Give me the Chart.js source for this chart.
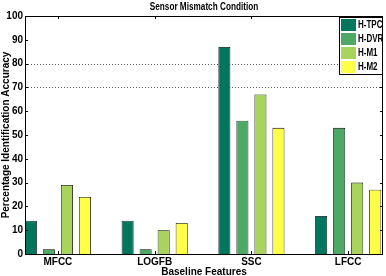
<!DOCTYPE html>
<html>
<head>
<meta charset="utf-8">
<script src="https://cdn.jsdelivr.net/npm/chart.js@4/dist/chart.umd.min.js"></script>
<style>
  html, body { margin: 0; padding: 0; background: #fff; }
  #wrap { width: 386px; height: 276px; }
</style>
</head>
<body>
<div id="wrap"><canvas id="chart" width="386" height="276"></canvas></div>
<script>
// data
const categories = ["MFCC", "LOGFB", "SSC", "LFCC"];
const seriesNames = ["H-TPC", "H-DVR", "H-M1", "H-M2"];
const hTPC = [14, 14, 87, 16];
const hDVR = [2, 2, 56, 53];
const hM1 = [29, 10, 67, 30];
const hM2 = [24, 13, 53, 27];
const yTicks = [0, 10, 20, 30, 40, 50, 60, 70, 80, 90, 100];
const gridAt = [70, 80];
const chartTitle = "Sensor Mismatch Condition";

const colors = ["#00775c", "#4ea866", "#a8d35c", "#ffff47"];
const FONT = "'Liberation Sans', Arial, sans-serif";

const toPoints = (arr) => arr.map((v, i) => ({ x: i + 1, y: v }));

// squeezed text, the original uses a narrow helvetica
function narrowText(ctx, text, x, y, sx) {
  ctx.save();
  ctx.translate(x, y);
  ctx.scale(sx, 1);
  ctx.fillText(text, 0, 0);
  ctx.restore();
}

// frame, inward ticks, dotted grid, title and legend box, matlab style
const framePlugin = {
  id: "frame",
  beforeDatasetsDraw(chart) {
    const { ctx, chartArea: a, scales } = chart;
    ctx.save();
    ctx.strokeStyle = "#555";
    ctx.lineWidth = 1;
    ctx.setLineDash([1, 2]);
    gridAt.forEach((v) => {
      const y = Math.round(scales.y.getPixelForValue(v)) + 0.5;
      ctx.beginPath();
      ctx.moveTo(a.left, y);
      ctx.lineTo(a.right, y);
      ctx.stroke();
    });
    ctx.restore();
  },
  afterDraw(chart) {
    const { ctx, chartArea: a, scales } = chart;
    ctx.save();
    ctx.strokeStyle = "#000";
    ctx.lineWidth = 1;
    ctx.strokeRect(Math.round(a.left) + 0.5, Math.round(a.top) + 0.5,
      Math.round(a.right - a.left) - 1, Math.round(a.bottom - a.top));
    // inward ticks
    ctx.beginPath();
    yTicks.forEach((v) => {
      const y = Math.round(scales.y.getPixelForValue(v)) + 0.5;
      ctx.moveTo(a.left, y); ctx.lineTo(a.left + 3, y);
      ctx.moveTo(a.right, y); ctx.lineTo(a.right - 3, y);
    });
    categories.forEach((c, i) => {
      const x = Math.round(scales.x.getPixelForValue(i + 1)) + 0.5;
      ctx.moveTo(x, a.top); ctx.lineTo(x, a.top + 3);
      ctx.moveTo(x, a.bottom); ctx.lineTo(x, a.bottom - 3);
    });
    ctx.stroke();

    // title centred on the plot box
    ctx.fillStyle = "#000";
    ctx.font = "bold 10px " + FONT;
    ctx.textAlign = "center";
    ctx.textBaseline = "middle";
    narrowText(ctx, chartTitle, (a.left + a.right) / 2, 7, 0.82);

    // legend
    const lx = 339, ly = 17, rowH = 14, lw = a.right - lx - 1;
    ctx.fillStyle = "#fff";
    ctx.fillRect(lx, ly, lw, rowH * 4 + 1);
    ctx.strokeRect(lx + 0.5, ly + 0.5, lw, rowH * 4 + 1);
    ctx.font = "bold 10px " + FONT;
    ctx.textAlign = "left";
    seriesNames.forEach((name, i) => {
      const y = ly + 2 + i * rowH;
      ctx.fillStyle = colors[i];
      ctx.fillRect(lx + 2, y, 15, 12);
      ctx.fillStyle = "#000";
      narrowText(ctx, name, lx + 19, y + 6.5, 0.8);
    });
    ctx.restore();
  }
};

new Chart(document.getElementById("chart").getContext("2d"), {
  type: "bar",
  data: {
    datasets: seriesNames.map((name, i) => ({
      label: name,
      data: toPoints([hTPC, hDVR, hM1, hM2][i]),
      backgroundColor: colors[i],
      borderColor: "#000",
      borderWidth: 0.8,
      categoryPercentage: 0.745,
      barPercentage: 0.667,
    })),
  },
  options: {
    responsive: false,
    animation: false,
    layout: { padding: { top: 16, right: 3, bottom: 0, left: 0 } },
    plugins: {
      legend: { display: false },
      tooltip: { enabled: false },
      title: { display: false },
    },
    scales: {
      x: {
        type: "linear",
        offset: false,
        min: 0.66,
        max: 4.36,
        afterBuildTicks: (scale) => {
          scale.ticks = categories.map((c, i) => ({ value: i + 1 }));
        },
        afterFit: (scale) => { scale.height = 22; },
        grid: { display: false, drawTicks: false },
        border: { display: false },
        ticks: {
          color: "#000",
          padding: 2,
          autoSkip: false,
          maxRotation: 0,
          font: { family: FONT, size: 10, weight: "bold" },
          callback: (v) => categories[v - 1],
        },
        title: {
          display: true,
          text: "Baseline Features",
          color: "#000",
          padding: 0,
          font: { family: FONT, size: 10, weight: "bold", lineHeight: 0.7 },
        },
      },
      y: {
        min: 0,
        max: 100,
        afterFit: (scale) => { scale.width = 25; },
        grid: { display: false, drawTicks: false },
        border: { display: false },
        ticks: {
          stepSize: 10,
          color: "#000",
          padding: 2,
          font: { family: FONT, size: 10, weight: "bold" },
        },
        title: {
          display: true,
          text: "Percentage Identification Accuracy",
          color: "#000",
          padding: 0,
          font: { family: FONT, size: 10, weight: "bold" },
        },
      },
    },
  },
  plugins: [framePlugin],
});
</script>
</body>
</html>
